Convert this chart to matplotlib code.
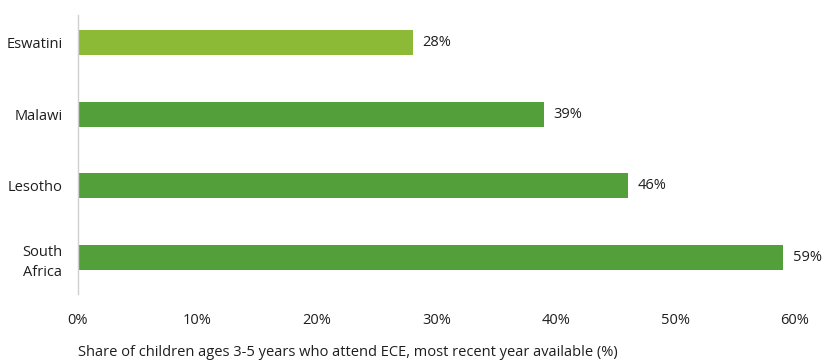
import matplotlib
matplotlib.use("Agg")
import matplotlib.pyplot as plt
from matplotlib.ticker import FuncFormatter

countries = ["Eswatini", "Malawi", "Lesotho", "South\nAfrica"]
shares = [28, 39, 46, 59]
bar_colors = ["#8cb936", "#539f3a", "#539f3a", "#539f3a"]
x_ticks = [0, 10, 20, 30, 40, 50, 60]
x_label = "Share of children ages 3-5 years who attend ECE, most recent year available (%)"

plt.rcParams["font.family"] = ["Open Sans", "DejaVu Sans"]
text_color = "#1e1e1e"

fig = plt.figure(figsize=(8.25, 3.64), dpi=100)
ax = fig.add_axes([78 / 825, 1 - 293.5 / 364, (795 - 78) / 825, 287 / 364])

ypos = list(range(len(countries)))
ax.barh(ypos, shares, height=0.35, color=bar_colors)
for y, v in zip(ypos, shares):
    ax.text(v + 0.8, y, f"{v}%", va="center", ha="left", fontsize=10.5,
            color=text_color, clip_on=False)

ax.set_ylim(len(countries) - 0.5, -0.5)
ax.set_xlim(0, 60)
ax.set_yticks(ypos)
ax.set_yticklabels(countries, fontsize=10.5, color=text_color, linespacing=1.45)
for lbl in ax.get_yticklabels():
    lbl.set_multialignment("center")
ax.set_xticks(x_ticks)
ax.xaxis.set_major_formatter(FuncFormatter(lambda v, _: f"{v:.0f}%"))
ax.tick_params(axis="x", length=0, pad=14, labelsize=10.5, labelcolor=text_color)
ax.tick_params(axis="y", length=0, pad=11)
ax.set_xlabel(x_label, fontsize=10.5, color=text_color, labelpad=12, loc="left")

for side in ["top", "right", "bottom"]:
    ax.spines[side].set_visible(False)
ax.spines["left"].set_color("#d0d0d0")
ax.spines["left"].set_linewidth(1)
ax.spines["left"].set_bounds(len(countries) - 0.5, -0.38)

fig.savefig("out.png", dpi=100)
